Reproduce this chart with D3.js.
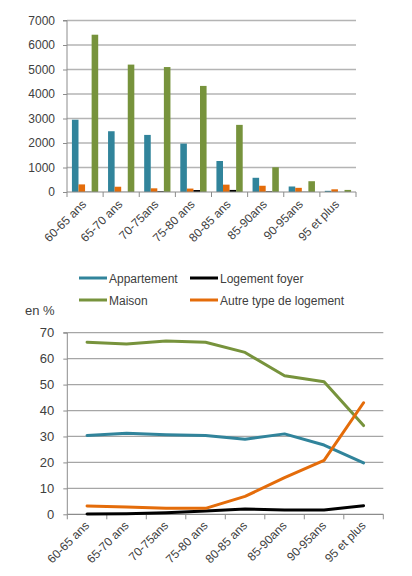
<!DOCTYPE html>
<html><head><meta charset="utf-8">
<script src="https://cdn.jsdelivr.net/npm/d3@7"></script>
<style>html,body{margin:0;padding:0;background:#fff;}svg{display:block;font-family:"Liberation Sans",Arial,sans-serif;}</style>
</head><body>
<svg id="c" width="412" height="576"></svg>
<script>
const categories = ["60-65 ans","65-70 ans","70-75ans","75-80 ans","80-85 ans","85-90ans","90-95ans","95 et plus"];
const seriesNames = ["Appartement","Autre type de logement","Logement foyer","Maison"];
// top chart: counts
const countAppartement = [2950,2480,2330,1975,1265,580,225,48];
const countAutre       = [310,215,150,140,300,255,170,110];
const countFoyer       = [12,6,30,80,85,25,10,5];
const countMaison      = [6420,5200,5100,4330,2740,1010,440,85];
const countTicks = [0,1000,2000,3000,4000,5000,6000,7000];
// bottom chart: percentages
const pctAppartement = [30.4,31.2,30.7,30.4,28.9,31.0,26.7,19.8];
const pctFoyer       = [0.1,0.2,0.6,1.3,2.0,1.7,1.7,3.3];
const pctMaison      = [66.3,65.6,66.8,66.3,62.4,53.4,51.1,34.2];
const pctAutre       = [3.2,2.8,2.3,2.3,6.9,14.1,20.8,43.0];
const pctTicks = [0,10,20,30,40,50,60,70];
const colors = {"Appartement":"#31849B","Autre type de logement":"#E46C0A","Logement foyer":"#000000","Maison":"#77933C"};

const svg = d3.select("#c");
const txt = "#404040";

// ---------- top bar chart ----------
const topSeries = {"Appartement":countAppartement,"Autre type de logement":countAutre,"Logement foyer":countFoyer,"Maison":countMaison};
const x0 = d3.scaleBand().domain(categories).range([67,356]).padding(0);
const bw = x0.bandwidth();
const barW = bw/5.5;
const x1 = d3.scaleBand().domain(seriesNames).range([0.75*barW, bw-0.75*barW]).padding(0);
const y = d3.scaleLinear().domain([0,7000]).range([192,20.5]);

const g1 = svg.append("g");
g1.selectAll("line.grid").data(countTicks.filter(d=>d>0)).enter().append("line")
  .attr("x1",67).attr("x2",356).attr("y1",d=>y(d)).attr("y2",d=>y(d))
  .attr("stroke","#b4b4b4").attr("stroke-width",1.6);
const yAx = g1.append("g").attr("transform","translate(67,0)")
  .call(d3.axisLeft(y).tickValues(countTicks).tickSize(4).tickPadding(8).tickFormat(d3.format("d")));
yAx.select(".domain").attr("stroke","#8c8c8c").attr("d","M-4,"+y(7000)+"H0V"+y(0));
yAx.selectAll(".tick line").attr("stroke","#8c8c8c");
yAx.selectAll("text").attr("fill",txt).attr("font-size",12).attr("font-family","Liberation Sans, Arial, sans-serif");

const groups = g1.selectAll("g.cat").data(categories).enter().append("g")
  .attr("transform",d=>`translate(${x0(d)},0)`);
groups.selectAll("rect").data((d,i)=>seriesNames.map(s=>({s,v:topSeries[s][i]}))).enter().append("rect")
  .attr("x",d=>x1(d.s)).attr("width",x1.bandwidth())
  .attr("y",d=>y(d.v)).attr("height",d=>y(0)-y(d.v))
  .attr("fill",d=>colors[d.s]);
// x axis
const xAx = g1.append("g").attr("transform","translate(0,192)");
xAx.append("line").attr("x1",67).attr("x2",356).attr("stroke","#8c8c8c").attr("stroke-width",1.2);
xAx.selectAll("line.t").data(d3.range(categories.length+1)).enter().append("line")
  .attr("x1",i=>67+i*bw).attr("x2",i=>67+i*bw).attr("y1",0).attr("y2",5).attr("stroke","#8c8c8c");
xAx.selectAll("text").data(categories).enter().append("text")
  .attr("transform",d=>`translate(${x0(d)+bw/2+2},${13}) rotate(-45)`)
  .attr("text-anchor","end").attr("font-size",12).attr("fill",txt).text(d=>d);

// ---------- legend ----------
const legend = [
  {s:"Appartement",x:79,y:278},
  {s:"Logement foyer",x:190,y:278},
  {s:"Maison",x:79,y:300},
  {s:"Autre type de logement",x:190,y:300}
];
const lg = svg.append("g");
legend.forEach(l=>{
  lg.append("line").attr("x1",l.x).attr("x2",l.x+28).attr("y1",l.y).attr("y2",l.y)
    .attr("stroke",colors[l.s]).attr("stroke-width",3);
  lg.append("text").attr("x",l.x+30).attr("y",l.y+4.5).attr("font-size",12).attr("fill",txt).text(l.s);
});

// ---------- bottom line chart ----------
const xb = d3.scaleBand().domain(categories).range([67.3,383.3]).padding(0);
const bb = xb.bandwidth();
const yb = d3.scaleLinear().domain([0,70]).range([514.3,332.7]);
const g2 = svg.append("g");
g2.append("text").attr("x",25).attr("y",315).attr("font-size",13).attr("fill",txt).text("en %");
g2.selectAll("line.grid").data(pctTicks.filter(d=>d>0)).enter().append("line")
  .attr("x1",67.3).attr("x2",383.3).attr("y1",d=>yb(d)).attr("y2",d=>yb(d))
  .attr("stroke","#a6a6a6").attr("stroke-width",1.2);
const yAx2 = g2.append("g").attr("transform","translate(67.3,0)")
  .call(d3.axisLeft(yb).tickValues(pctTicks).tickSize(4).tickPadding(9));
yAx2.select(".domain").attr("stroke","#8c8c8c").attr("d","M-4,"+yb(70)+"H0V"+yb(0));
yAx2.selectAll(".tick line").attr("stroke","#8c8c8c");
yAx2.selectAll("text").attr("fill",txt).attr("font-size",13).attr("font-family","Liberation Sans, Arial, sans-serif");
const xAx2 = g2.append("g").attr("transform",`translate(0,${yb(0)})`);
xAx2.append("line").attr("x1",67.3).attr("x2",383.3).attr("stroke","#8c8c8c").attr("stroke-width",1.2);
xAx2.selectAll("line.t").data(d3.range(categories.length+1)).enter().append("line")
  .attr("x1",i=>67.3+i*bb).attr("x2",i=>67.3+i*bb).attr("y1",0).attr("y2",5).attr("stroke","#8c8c8c");
xAx2.selectAll("text").data(categories).enter().append("text")
  .attr("transform",d=>`translate(${xb(d)+bb/2+3},${12}) rotate(-45)`)
  .attr("text-anchor","end").attr("font-size",12).attr("fill",txt).text(d=>d);

const lineSeries = [
  {s:"Appartement",v:pctAppartement},
  {s:"Logement foyer",v:pctFoyer},
  {s:"Maison",v:pctMaison},
  {s:"Autre type de logement",v:pctAutre}
];
const line = d3.line().x((d,i)=>xb(categories[i])+bb/2).y(d=>yb(d));
g2.selectAll("path.l").data(lineSeries).enter().append("path")
  .attr("d",d=>line(d.v)).attr("fill","none").attr("stroke",d=>colors[d.s])
  .attr("stroke-width",3).attr("stroke-linejoin","round").attr("stroke-linecap","round");
</script>
</body></html>
